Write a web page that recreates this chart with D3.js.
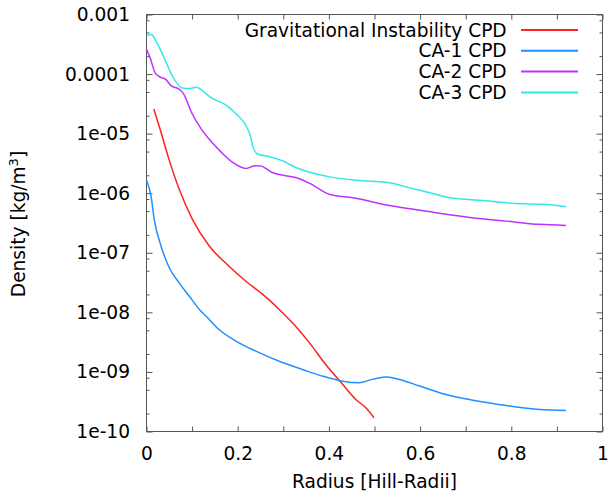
<!DOCTYPE html>
<html>
<head>
<meta charset="utf-8">
<script src="https://cdn.jsdelivr.net/npm/d3@7"></script>
<style>
  body { margin: 0; background: #fff; }
  text { font-family: "DejaVu Sans", sans-serif; font-size: 18.6px; fill: #000; }
  .axis path { display: none; }
  .axis line { stroke: #555; }
</style>
</head>
<body>
<div id="chart"></div>
<script>
// Gravitational Instability CPD
const giRadius = [0.016, 0.030, 0.048, 0.072, 0.101, 0.138, 0.181, 0.218, 0.255, 0.291, 0.320, 0.357, 0.393, 0.430, 0.459, 0.481, 0.499];
const giDensity = [2.6e-5, 1.17e-5, 4.0e-6, 1.15e-6, 3.6e-7, 1.29e-7, 5.95e-8, 3.33e-8, 2.0e-8, 1.12e-8, 6.7e-9, 3.1e-9, 1.33e-9, 6.2e-10, 3.45e-10, 2.5e-10, 1.7e-10];

// CA-1 CPD
const ca1Radius = [0.0, 0.010, 0.017, 0.032, 0.050, 0.072, 0.094, 0.116, 0.134, 0.159, 0.196, 0.240, 0.291, 0.342, 0.386, 0.430, 0.466, 0.495, 0.525, 0.548, 0.599, 0.650, 0.716, 0.789, 0.862, 0.920];
const ca1Density = [1.65e-6, 8.9e-7, 3.6e-7, 1.29e-7, 5.6e-8, 3.1e-8, 1.86e-8, 1.12e-8, 8.1e-9, 5.15e-9, 3.3e-9, 2.23e-9, 1.51e-9, 1.1e-9, 8.5e-10, 7.0e-10, 6.6e-10, 7.5e-10, 8.2e-10, 7.7e-10, 5.8e-10, 4.3e-10, 3.35e-10, 2.73e-10, 2.34e-10, 2.25e-10];

// CA-2 CPD
const ca2Radius = [0.0, 0.008, 0.019, 0.030, 0.041, 0.055, 0.070, 0.081, 0.099, 0.121, 0.139, 0.165, 0.190, 0.218, 0.238, 0.252, 0.274, 0.300, 0.329, 0.358, 0.402, 0.453, 0.533, 0.628, 0.701, 0.789, 0.862, 0.920];
const ca2Density = [2.6e-4, 1.87e-4, 1.05e-4, 8.9e-5, 8.3e-5, 6.25e-5, 5.7e-5, 4.7e-5, 2.24e-5, 1.17e-5, 7.8e-6, 4.8e-6, 3.25e-6, 2.6e-6, 2.9e-6, 2.85e-6, 2.25e-6, 2.0e-6, 1.82e-6, 1.46e-6, 9.5e-7, 8.4e-7, 6.2e-7, 4.8e-7, 4.0e-7, 3.4e-7, 3.0e-7, 2.87e-7];

// CA-3 CPD
const ca3Radius = [0.0, 0.011, 0.019, 0.037, 0.055, 0.077, 0.092, 0.110, 0.121, 0.139, 0.176, 0.198, 0.219, 0.228, 0.234, 0.245, 0.271, 0.300, 0.329, 0.358, 0.402, 0.460, 0.533, 0.577, 0.628, 0.665, 0.738, 0.811, 0.869, 0.920];
const ca3Density = [4.5e-4, 4.6e-4, 3.8e-4, 2.0e-4, 9.8e-5, 5.9e-5, 5.7e-5, 6.0e-5, 5.4e-5, 4.15e-5, 2.96e-5, 2.1e-5, 1.33e-5, 9.1e-6, 5.8e-6, 4.5e-6, 4.1e-6, 3.45e-6, 2.67e-6, 2.25e-6, 1.88e-6, 1.65e-6, 1.5e-6, 1.23e-6, 9.9e-7, 8.4e-7, 7.55e-7, 6.7e-7, 6.5e-7, 5.9e-7];

const seriesNames = ["Gravitational Instability CPD", "CA-1 CPD", "CA-2 CPD", "CA-3 CPD"];
const seriesColors = ["#ff2020", "#2090ff", "#c030ff", "#30e8e8"];

// Tick values / labels
const xTickValues = [0, 0.1, 0.2, 0.3, 0.4, 0.5, 0.6, 0.7, 0.8, 0.9, 1];
const xTickLabels = ["0", "", "0.2", "", "0.4", "", "0.6", "", "0.8", "", "1"];
const yTickValues = [1e-10, 1e-9, 1e-8, 1e-7, 1e-6, 1e-5, 1e-4, 1e-3];
const yTickLabels = ["1e-10", "1e-09", "1e-08", "1e-07", "1e-06", "1e-05", "0.0001", "0.001"];
const yMinorMultipliers = [2, 5, 8];

const margin = { top: 14.5, right: 5.5, bottom: 66.5, left: 146.5 },
  width = 608 - margin.left - margin.right,
  height = 498 - margin.top - margin.bottom;

const x = d3.scaleLinear().domain([0, 1]).range([0, width]);
const y = d3.scaleLog().domain([1e-10, 1e-3]).range([height, 0]);

const svg = d3.select("#chart").append("svg")
  .attr("width", 608)
  .attr("height", 498);

const g = svg.append("g")
  .attr("transform", "translate(" + margin.left + "," + margin.top + ")");

// minor log ticks (2, 5, 8 x 10^n)
const yMinor = [];
yTickValues.slice(0, -1).forEach(function (v) {
  yMinorMultipliers.forEach(function (m) { yMinor.push(v * m); });
});

// x axis (bottom + mirrored top)
g.append("g")
  .attr("class", "axis")
  .attr("transform", "translate(0," + height + ")")
  .call(d3.axisBottom(x).tickValues(xTickValues).tickSizeInner(-5).tickSizeOuter(0).tickPadding(15)
    .tickFormat(function (d, i) { return xTickLabels[i]; }));

g.append("g")
  .attr("class", "axis")
  .call(d3.axisTop(x).tickValues(xTickValues).tickSizeInner(-5).tickSizeOuter(0).tickFormat(""));

// y axis (left + mirrored right)
g.append("g")
  .attr("class", "axis")
  .call(d3.axisLeft(y).tickValues(yTickValues).tickSizeInner(-6).tickSizeOuter(0).tickPadding(16.5)
    .tickFormat(function (d, i) { return yTickLabels[i]; }));

g.append("g")
  .attr("class", "axis")
  .call(d3.axisLeft(y).tickValues(yMinor).tickSizeInner(-3).tickSizeOuter(0).tickFormat(""));

g.append("g")
  .attr("class", "axis")
  .attr("transform", "translate(" + width + ",0)")
  .call(d3.axisRight(y).tickValues(yTickValues).tickSizeInner(-6).tickSizeOuter(0).tickFormat(""));

g.append("g")
  .attr("class", "axis")
  .attr("transform", "translate(" + width + ",0)")
  .call(d3.axisRight(y).tickValues(yMinor).tickSizeInner(-3).tickSizeOuter(0).tickFormat(""));

g.selectAll(".axis text").attr("font-size", 18.6).attr("font-family", "DejaVu Sans").attr("fill", "#000");

// border
g.append("rect")
  .attr("width", width)
  .attr("height", height)
  .attr("fill", "none")
  .attr("stroke", "#555")
  .attr("stroke-width", 1);

// series
const series = [
  { r: giRadius, d: giDensity },
  { r: ca1Radius, d: ca1Density },
  { r: ca2Radius, d: ca2Density },
  { r: ca3Radius, d: ca3Density }
];

const line = d3.line()
  .x(function (p) { return x(p[0]); })
  .y(function (p) { return y(p[1]); })
  .curve(d3.curveMonotoneX);

series.forEach(function (s, i) {
  g.append("path")
    .datum(d3.zip(s.r, s.d))
    .attr("fill", "none")
    .attr("stroke", seriesColors[i])
    .attr("stroke-width", 1.5)
    .attr("d", line);
});

// legend
const legend = svg.append("g").attr("class", "legend");
seriesNames.forEach(function (name, i) {
  const ly = 30 + i * 20.8;
  legend.append("text")
    .attr("x", 506.7)
    .attr("y", ly + 6.5)
    .attr("text-anchor", "end")
    .text(name);
  legend.append("line")
    .attr("x1", 521)
    .attr("x2", 578)
    .attr("y1", ly)
    .attr("y2", ly)
    .attr("stroke", seriesColors[i])
    .attr("stroke-width", 2);
});

// axis titles
svg.append("text")
  .attr("x", margin.left + width / 2)
  .attr("y", 488)
  .attr("text-anchor", "middle")
  .text("Radius [Hill-Radii]");

const yTitle = svg.append("text")
  .attr("transform", "translate(25,224) rotate(-90)")
  .attr("text-anchor", "middle");
yTitle.append("tspan").text("Density [kg/m");
yTitle.append("tspan").attr("dy", -7).attr("font-size", 13).text("3");
yTitle.append("tspan").attr("dy", 7).text("]");
</script>
</body>
</html>
